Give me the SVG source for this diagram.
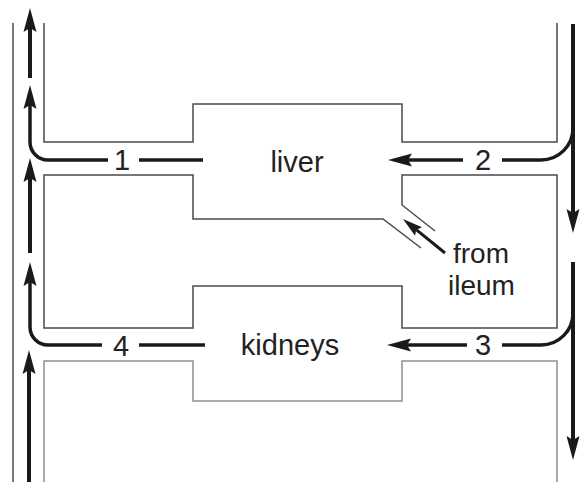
<svg xmlns="http://www.w3.org/2000/svg" width="581" height="482" viewBox="0 0 581 482">
<style>
.wall{fill:none;stroke:#4a4a4a;stroke-width:1.5}
.wall2{fill:none;stroke:#8f8f8f;stroke-width:1.5}
.flow{fill:none;stroke:#1a1a1a;stroke-width:4}
.flowh{fill:none;stroke:#1a1a1a;stroke-width:3.5}
.thin{fill:none;stroke:#1a1a1a;stroke-width:3}
text{font-family:"Liberation Sans",Arial,sans-serif;font-size:29px;fill:#222}
.num{text-anchor:middle}
.sm{font-size:28px}
</style>
<defs>
<marker id="ah" markerUnits="userSpaceOnUse" markerWidth="30" markerHeight="16" viewBox="0 -8 30 16" refX="4" refY="0" orient="auto">
<path d="M0,-6.5 L24,0 L0,6.5 L4,0 Z" fill="#1a1a1a"/>
</marker>
<marker id="ahs" markerUnits="userSpaceOnUse" markerWidth="26" markerHeight="14" viewBox="0 -7 26 14" refX="3" refY="0" orient="auto">
<path d="M0,-5.5 L20,0 L0,5.5 L3,0 Z" fill="#1a1a1a"/>
</marker>
</defs>
<g id="vessels">
<path class="wall" d="M13,23 V482"/>
<path class="wall" d="M44,23 V142 H193 V104 H402 V142 H557 V23"/>
<path class="wall" d="M421,248 L383,219 H193 V175 H44 V328 H193 V286 H402 V328 H557 V175 H402 V205 L435,231"/>
<path class="wall2" d="M44,482 V361 H193 V401 H402 V361 H557 V482"/>
</g>
<g id="liver"><text x="297" y="172" class="num">liver</text></g>
<g id="kidneys"><text x="290" y="355" class="num">kidneys</text></g>
<g id="ileum"><text x="453" y="263" class="sm">from</text><text x="448" y="295" class="sm">ileum</text></g>
<g id="labels">
<text x="122" y="170" class="num">1</text>
<text x="483" y="170" class="num">2</text>
<text x="483" y="355" class="num">3</text>
<text x="121" y="356" class="num">4</text>
</g>
<g id="connectors">
<path class="flow" d="M30,78 V28" marker-end="url(#ah)"/>
<path class="flowh" d="M108,160 H48 A18,18 0 0 1 30,142 V105" marker-end="url(#ah)"/>
<path class="flow" d="M30,253 V178" marker-end="url(#ah)"/>
<path class="flowh" d="M102,345 H48 A18,18 0 0 1 30,327 V282" marker-end="url(#ah)"/>
<path class="flow" d="M29,482 V370" marker-end="url(#ah)"/>
<path class="flowh" d="M139,160 H203"/>
<path class="flowh" d="M139,345 H205"/>
<path class="flow" d="M573,24 V213" marker-end="url(#ah)"/>
<path class="flowh" d="M573,128 A32,32 0 0 1 541,160 H502"/>
<path class="flow" d="M573,262 V440" marker-end="url(#ah)"/>
<path class="flowh" d="M573,313 A32,32 0 0 1 541,345 H502"/>
<path class="flowh" d="M463,160 H408" marker-end="url(#ah)"/>
<path class="flowh" d="M467,345 H407" marker-end="url(#ah)"/>
<path class="thin" d="M445,253 L416.2,229.7" marker-end="url(#ahs)"/>
</g>
</svg>
